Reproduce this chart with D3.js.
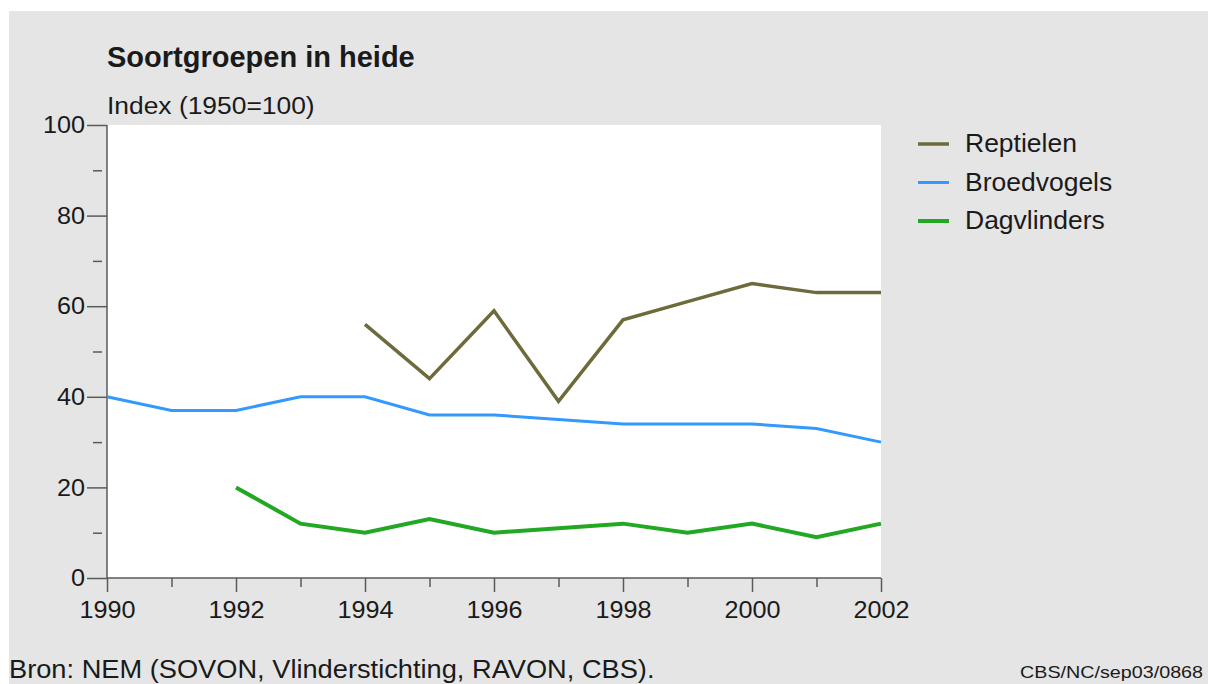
<!DOCTYPE html>
<html>
<head>
<meta charset="utf-8">
<script src="https://cdn.jsdelivr.net/npm/d3@7"></script>
<style>
  body { margin: 0; background: #fff; }
  text { font-family: "Liberation Sans", Arial, sans-serif; fill: #1a1a1a; }
</style>
</head>
<body>
<div id="chart"></div>
<script>
// data
var years = d3.range(1990, 2003);
var reptielen   = [null, null, null, null, 56, 44, 59, 39, 57, 61, 65, 63, 63];
var broedvogels = [40, 37, 37, 40, 40, 36, 36, 35, 34, 34, 34, 33, 30];
var dagvlinders = [null, null, 20, 12, 10, 13, 10, 11, 12, 10, 12, 9, 12];
var seriesNames = ["Reptielen", "Broedvogels", "Dagvlinders"];
var seriesColors = ["#6d6b3b", "#3399ff", "#22a822"];
var seriesWidths = [3.5, 3, 4];
var yTicks = [0, 20, 40, 60, 80, 100];
var xTicks = [1990, 1992, 1994, 1996, 1998, 2000, 2002];

var W = 1209, H = 684;
var plot = { left: 107, right: 881, top: 125, bottom: 578 };

var svg = d3.select("#chart").append("svg")
    .attr("width", W)
    .attr("height", H);

svg.append("rect")
    .attr("x", 9).attr("y", 11)
    .attr("width", 1199).attr("height", H - 11)
    .attr("fill", "#e5e5e5");

svg.append("rect")
    .attr("x", plot.left).attr("y", plot.top)
    .attr("width", plot.right - plot.left).attr("height", plot.bottom - plot.top)
    .attr("fill", "#fff");

var x = d3.scaleLinear().domain([1990, 2002]).range([plot.left, plot.right]);
var y = d3.scaleLinear().domain([0, 100]).range([plot.bottom, plot.top]);

// text helper: the original type is a little wider than Liberation Sans
function addText(px, py, size, sx, str) {
    return svg.append("text")
        .attr("transform", "translate(" + px + "," + py + ") scale(" + sx + ",1)")
        .style("font-size", size + "px")
        .text(str);
}

// y axis
var yAxis = svg.append("g")
    .attr("transform", "translate(" + plot.left + ",0)")
    .call(d3.axisLeft(y).tickValues(yTicks).tickSize(20).tickPadding(2));
svg.append("g")
    .attr("transform", "translate(" + (plot.left - 5) + ",0)")
    .call(d3.axisLeft(y).tickValues([10, 30, 50, 70, 90]).tickSize(9).tickFormat(""))
    .select(".domain").remove();
yAxis.selectAll(".tick text")
    .attr("x", -22 / 1.05)
    .attr("transform", "scale(1.05,1)");

// x axis
var xAxis = svg.append("g")
    .attr("transform", "translate(0," + plot.bottom + ")")
    .call(d3.axisBottom(x).tickValues(xTicks).tickSize(14).tickPadding(9).tickFormat(d3.format("d")));
svg.append("g")
    .attr("transform", "translate(0," + plot.bottom + ")")
    .call(d3.axisBottom(x).tickValues(years.filter(function(d) { return d % 2 == 1; }))
        .tickSize(9).tickFormat(""))
    .select(".domain").remove();
xAxis.selectAll(".tick text")
    .attr("transform", "scale(1.05,1)");

svg.selectAll(".domain, .tick line")
    .attr("stroke", "#5a5a5a")
    .attr("stroke-width", 1.5);
yAxis.select(".domain").attr("d", "M0," + plot.top + "V" + plot.bottom);
xAxis.select(".domain").attr("d", "M" + plot.left + ",0H" + plot.right);
svg.selectAll(".tick text")
    .style("font-size", "24px")
    .style("font-family", "Liberation Sans, Arial, sans-serif")
    .attr("fill", "#1a1a1a");

// lines
var allSeries = [reptielen, broedvogels, dagvlinders];
var line = d3.line()
    .defined(function(d) { return d != null; })
    .x(function(d, i) { return x(years[i]); })
    .y(function(d) { return y(d); });

svg.append("g").selectAll("path.series")
    .data(allSeries)
    .enter()
    .append("path")
    .attr("class", "series")
    .attr("d", line)
    .attr("fill", "none")
    .attr("stroke", function(d, i) { return seriesColors[i]; })
    .attr("stroke-width", function(d, i) { return seriesWidths[i]; })
    .attr("stroke-linejoin", "miter");

// legend
var legend = svg.append("g").selectAll("g")
    .data(seriesNames)
    .enter()
    .append("g")
    .attr("transform", function(d, i) { return "translate(918," + (144 + i * 38.5) + ")"; });
legend.append("line")
    .attr("x1", 0).attr("x2", 31)
    .attr("stroke", function(d, i) { return seriesColors[i]; })
    .attr("stroke-width", function(d, i) { return seriesWidths[i]; });
legend.append("text")
    .attr("transform", "translate(47,8) scale(1.06,1)")
    .style("font-size", "25px")
    .text(function(d) { return d; });

// titles and notes
addText(107, 67, 29, 1, "Soortgroepen in heide").style("font-weight", "bold");
addText(107, 114, 24, 1.1, "Index (1950=100)");
addText(9, 678, 25, 1.09, "Bron: NEM (SOVON, Vlinderstichting, RAVON, CBS).");
addText(1020, 678, 17, 1.16, "CBS/NC/sep03/0868");
</script>
</body>
</html>
